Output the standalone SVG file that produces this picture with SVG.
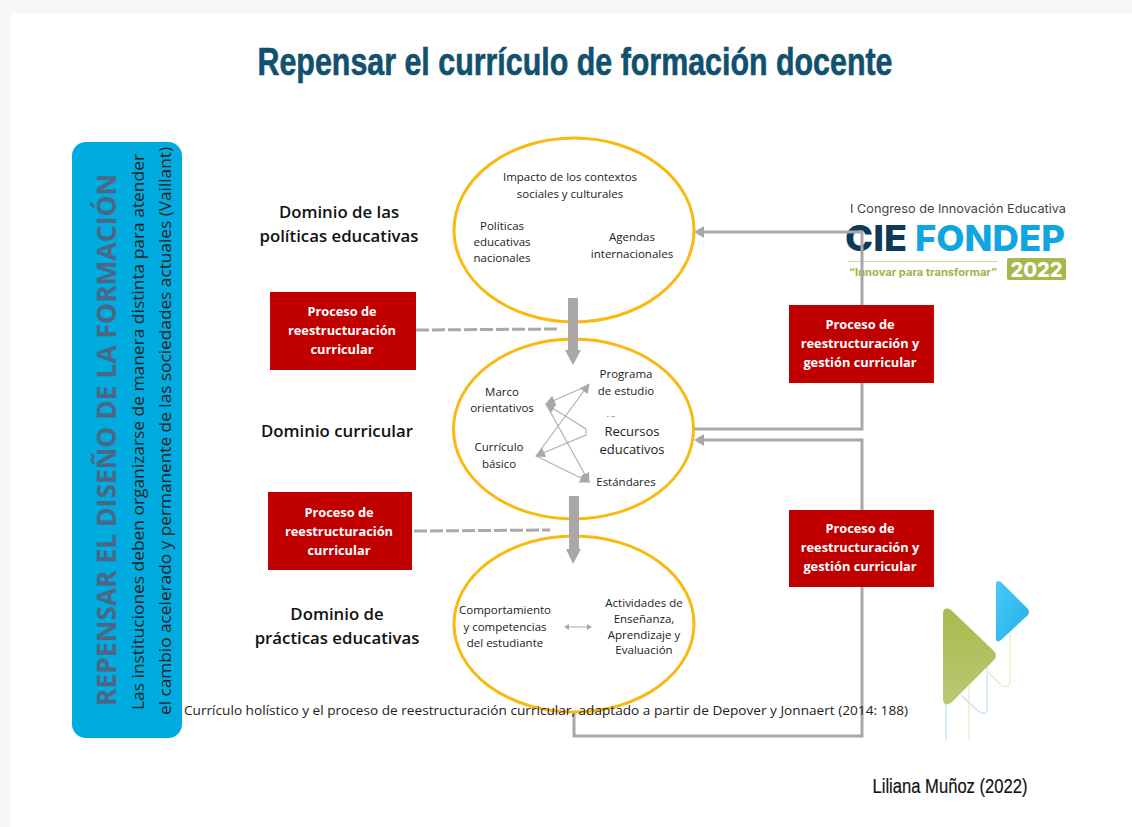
<svg xmlns="http://www.w3.org/2000/svg" width="1132" height="827" viewBox="0 0 1132 827">
<style>
text{font-family:"Open Sans","Noto Sans",sans-serif;text-anchor:middle;fill:#222}
.s{font-size:11.5px}
.d{font-size:16.800px;font-weight:600;fill:#111}
.w{font-size:12.800px;font-weight:700;fill:#fff}
.e{fill:#fff;stroke:#f9b911;stroke-width:3}
.red{fill:#c00000}
.c{fill:none;stroke:#a8a8a8;stroke-width:3}
.t{fill:none;stroke:#b0b0b0;stroke-width:1.200}
.ah{fill:#a8a8a8}
</style>
<defs>
<marker id="a" markerUnits="userSpaceOnUse" markerWidth="11" markerHeight="10" refX="9" refY="5" orient="auto"><path d="M0 0L10 5L0 10Z" fill="#a8a8a8"/></marker>
<linearGradient id="gr" x1="0" y1="0" x2="0" y2="1"><stop offset="0" stop-color="#a9ba4e"/><stop offset="1" stop-color="#bcc873"/></linearGradient>
<linearGradient id="bl" x1="0" y1="0" x2="1" y2="1"><stop offset="0" stop-color="#4cc9f5"/><stop offset="1" stop-color="#1fb0ea"/></linearGradient>
</defs>
<rect width="1132" height="827" fill="#f7f7f7"/>
<rect x="10" y="13" width="1122" height="814" fill="#fff"/>
<text x="575" y="75" style="font-family:'Liberation Sans',sans-serif;font-size:38px;font-weight:700;fill:#11506f;stroke:#11506f;stroke-width:.6" textLength="635" lengthAdjust="spacingAndGlyphs">Repensar el currículo de formación docente</text>

<g id="sidebar">
<rect x="72" y="142" width="110" height="596" rx="14" fill="#00abdf"/>
<text transform="translate(116 440) rotate(-90)" style="font-size:27px;font-weight:700;fill:#4c6785" textLength="532" lengthAdjust="spacingAndGlyphs">REPENSAR EL DISEÑO DE LA FORMACIÓN</text>
<text transform="translate(144 432) rotate(-90)" style="font-size:16.500px" textLength="556" lengthAdjust="spacingAndGlyphs">Las instituciones deben organizarse de manera distinta para atender</text>
<text transform="translate(171 431) rotate(-90)" style="font-size:16.500px" textLength="568" lengthAdjust="spacingAndGlyphs">el cambio acelerado y permanente de las sociedades actuales (Vaillant)</text>
</g>

<g id="logo">
<text x="958" y="213" style="font-family:Inter,sans-serif;font-size:12px;fill:#444" textLength="216" lengthAdjust="spacingAndGlyphs">I Congreso de Innovación Educativa</text>
<text x="876" y="251" style="font-family:Inter,sans-serif;font-size:36px;font-weight:800;fill:#0d3a58" textLength="62" lengthAdjust="spacingAndGlyphs">CIE</text>
<text x="990" y="251" style="font-family:Inter,sans-serif;font-size:36px;font-weight:800;fill:#0ea5e0" textLength="150" lengthAdjust="spacingAndGlyphs">FONDEP</text>
<path d="M848 261.500H998" stroke="#cfdc9c" stroke-width="1"/>
<text x="923" y="276" style="font-family:Inter,sans-serif;font-size:10px;font-weight:700;fill:#9db544" textLength="148" lengthAdjust="spacingAndGlyphs">“Innovar para transformar”</text>
<rect x="1007" y="258" width="59" height="22" rx="2" fill="#a5b94a"/>
<text x="1036.500" y="277" style="font-family:Inter,sans-serif;font-size:20px;font-weight:800;fill:#fff">2022</text>
</g>

<g id="connectors">
<path class="c" d="M694 429H862V232H704"/>
<path class="c" d="M574 712V736H862V440H704"/>
<path class="ah" d="M704 226V238L694 232Z M704 434V446L694 440Z"/>
<path d="M416 330L560 329" fill="none" stroke="#aaa" stroke-width="3" stroke-dasharray="13 3"/>
<path d="M414 531L550 530" fill="none" stroke="#aaa" stroke-width="3" stroke-dasharray="13 3"/>
</g>

<g id="ellipse-politicas">
<ellipse class="e" cx="574" cy="230" rx="120" ry="92"/>
<text class="s" x="570" y="181">Impacto de los contextos</text>
<text class="s" x="570" y="198">sociales y culturales</text>
<text class="s" x="502" y="230">Políticas</text>
<text class="s" x="502" y="246">educativas</text>
<text class="s" x="502" y="262">nacionales</text>
<text class="s" x="632" y="241">Agendas</text>
<text class="s" x="632" y="258">internacionales</text>
</g>
<g id="ellipse-curricular">
<ellipse class="e" cx="573.500" cy="429" rx="120" ry="90"/>
<text class="s" x="502" y="396">Marco</text>
<text class="s" x="502" y="412">orientativos</text>
<text class="s" x="499" y="451">Currículo</text>
<text class="s" x="499" y="468">básico</text>
<text class="s" x="626" y="378">Programa</text>
<text class="s" x="626" y="395">de estudio</text>
<text x="632" y="436" style="font-size:13px">Recursos</text>
<text x="632" y="454" style="font-size:13px">educativos</text>
<text class="s" x="626" y="486">Estándares</text>
<text x="611" y="417" style="font-size:8px">. ..</text>
<path class="t" d="M536 456L589 384" marker-end="url(#a)"/>
<path class="t" d="M589 385L546 404" marker-end="url(#a)"/>
<path class="t" d="M586 429L546 404" marker-end="url(#a)"/>
<path class="t" d="M586 429V435L536 456" marker-end="url(#a)"/>
<path class="t" d="M546 404L589 482" marker-end="url(#a)"/>
<path class="t" d="M536 456L589 482" marker-end="url(#a)"/>
</g>
<g id="ellipse-practicas">
<ellipse class="e" cx="574" cy="624" rx="120" ry="88"/>
<text class="s" x="505" y="614">Comportamiento</text>
<text class="s" x="505" y="631">y competencias</text>
<text class="s" x="505" y="647">del estudiante</text>
<text class="s" x="644" y="607">Actividades de</text>
<text class="s" x="644" y="623">Enseñanza,</text>
<text class="s" x="644" y="639">Aprendizaje y</text>
<text class="s" x="644" y="654">Evaluación</text>
<path d="M566 627H590" stroke="#aaa" fill="none"/>
<path d="M564 627L569 624V630Z M592 627L587 624V630Z" class="ah"/>
</g>
<g id="arrows-down">
<path class="ah" d="M568 298H578V350H581L573 365L565 350H568Z"/>
<path class="ah" d="M569 496H579V549H581L573 564L566 549H569Z"/>
</g>

<g id="dom-politicas"><text class="d" x="339" y="218">Dominio de las</text><text class="d" x="339" y="242">políticas educativas</text></g>
<g id="dom-curricular"><text class="d" x="337" y="437">Dominio curricular</text></g>
<g id="dom-practicas"><text class="d" x="337" y="620">Dominio de</text><text class="d" x="337" y="644">prácticas educativas</text></g>

<g id="box-1"><rect class="red" x="270" y="292" width="146" height="78"/><text class="w" x="342" y="316">Proceso de</text><text class="w" x="342" y="335">reestructuración</text><text class="w" x="342" y="354">curricular</text></g>
<g id="box-2"><rect class="red" x="268" y="492" width="144" height="78"/><text class="w" x="339" y="517">Proceso de</text><text class="w" x="339" y="536">reestructuración</text><text class="w" x="339" y="555">curricular</text></g>
<g id="box-3"><rect class="red" x="789" y="305" width="145" height="78"/><text class="w" x="860" y="329">Proceso de</text><text class="w" x="860" y="348">reestructuración y</text><text class="w" x="860" y="367">gestión curricular</text></g>
<g id="box-4"><rect class="red" x="789" y="510" width="145" height="77"/><text class="w" x="860" y="533">Proceso de</text><text class="w" x="860" y="552">reestructuración y</text><text class="w" x="860" y="571">gestión curricular</text></g>

<g id="decor">
<path d="M946 700V740" stroke="#bfe3f3" fill="none" stroke-width="1.200"/>
<path d="M969 686V740" stroke="#e6eac8" fill="none" stroke-width="1.200"/>
<path d="M961 695L978 711Q987 717 987 708V666" stroke="#bfe3f3" fill="none" stroke-width="1.200"/>
<path d="M988 672L1001 685Q1010 690 1010 680V632" stroke="#e6eac8" fill="none" stroke-width="1.200"/>
<path d="M943 613Q944 606 951 610L994 651Q998 656 994 660L951 703Q944 707 943 700Z" fill="url(#gr)"/>
<path d="M996 584Q996 579 1001 582L1028 609Q1030 612 1028 615L1001 640Q996 644 996 638Z" fill="url(#bl)"/>
</g>

<text x="546" y="715" style="font-size:12.500px" textLength="724" lengthAdjust="spacingAndGlyphs">Currículo holístico y el proceso de reestructuración curricular, adaptado a partir de Depover y Jonnaert (2014: 188)</text>
<text x="950" y="793" style="font-family:'Liberation Sans',sans-serif;font-size:21px;fill:#111;stroke:#111;stroke-width:.2" textLength="155" lengthAdjust="spacingAndGlyphs">Liliana Muñoz (2022)</text>
</svg>
